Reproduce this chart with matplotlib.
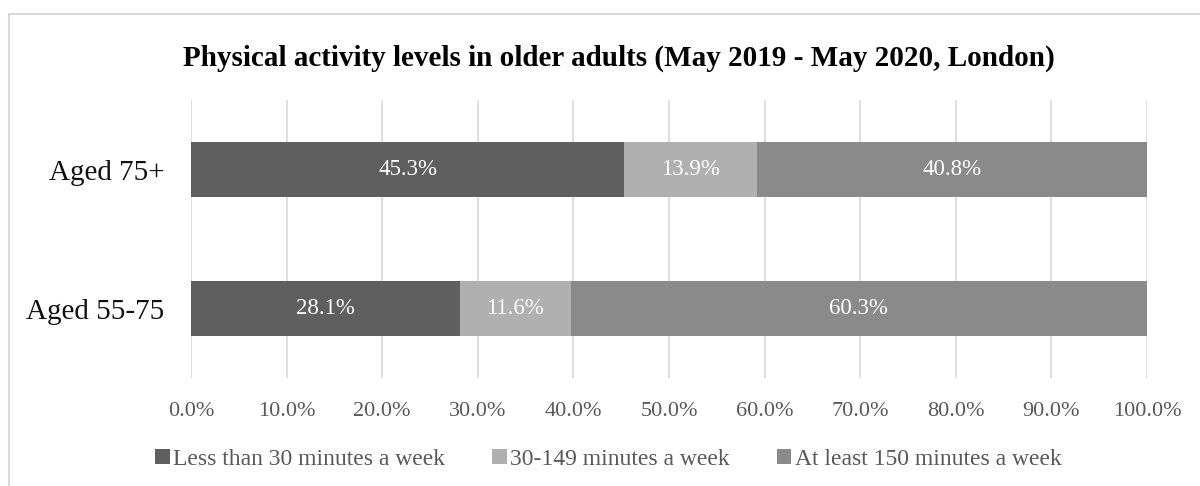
import matplotlib.pyplot as plt
from matplotlib.patches import Rectangle
from matplotlib.ticker import FuncFormatter

plt.rcParams['font.family'] = ['Liberation Serif', 'DejaVu Serif']

groups = ['Aged 55-75', 'Aged 75+']
less_30 = [28.1, 45.3]
mid_30_149 = [11.6, 13.9]
at_least_150 = [60.3, 40.8]
series_names = ['Less than 30 minutes a week', '30-149 minutes a week',
                'At least 150 minutes a week']
colors = ['#5f5f5f', '#b0b0b0', '#8a8a8a']

fig = plt.figure(figsize=(12, 4.86), dpi=100)
ax = fig.add_axes([191 / 1200, 1 - 378 / 486, 956 / 1200, 278 / 486])

# chart frame (runs off the right and bottom edges)
fig.patches.append(Rectangle((9 / 1200, -0.1), 1.2, 1 - 14 / 486 + 0.1,
                             transform=fig.transFigure, fill=False,
                             edgecolor='#d9d9d9', linewidth=1.5, zorder=0))

ypos = list(range(len(groups)))
left = [0.0] * len(groups)
for vals, name, col in zip([less_30, mid_30_149, at_least_150], series_names, colors):
    bars = ax.barh(ypos, vals, left=left, height=0.4, color=col, label=name, zorder=2)
    for b, v in zip(bars, vals):
        ax.text(b.get_x() + b.get_width() / 2, b.get_y() + b.get_height() / 2,
                f'{v:.1f}%', ha='center', va='center', color='white', fontsize=16.5, zorder=3)
    left = [l + v for l, v in zip(left, vals)]

ax.set_xlim(0, 100)
ax.set_ylim(-0.5, 1.5)
ax.set_xticks(range(0, 101, 10))
ax.xaxis.set_major_formatter(FuncFormatter(lambda x, _: f'{x:.1f}%'))
ax.set_yticks(ypos)
ax.set_yticklabels(groups, fontsize=21, color='#111111')
ax.tick_params(axis='x', labelsize=16, labelcolor='#595959', length=0, pad=17)
ax.tick_params(axis='y', length=0, pad=19)
ax.grid(axis='x', color='#d9d9d9', linewidth=1.2, zorder=0)
ax.set_axisbelow(True)
for s in ax.spines.values():
    s.set_visible(False)

fig.text(0.516, 1 - 58 / 486, 'Physical activity levels in older adults (May 2019 - May 2020, London)',
         ha='center', va='center', fontsize=21, fontweight='bold')

leg = fig.legend(loc='center', bbox_to_anchor=(0.507, 1 - 459 / 486), ncol=3, frameon=False,
                 fontsize=17, handlelength=0.6, handleheight=0.6, handletextpad=0.15,
                 columnspacing=2.0, labelcolor='#595959')

fig.savefig('out.png', dpi=100)
